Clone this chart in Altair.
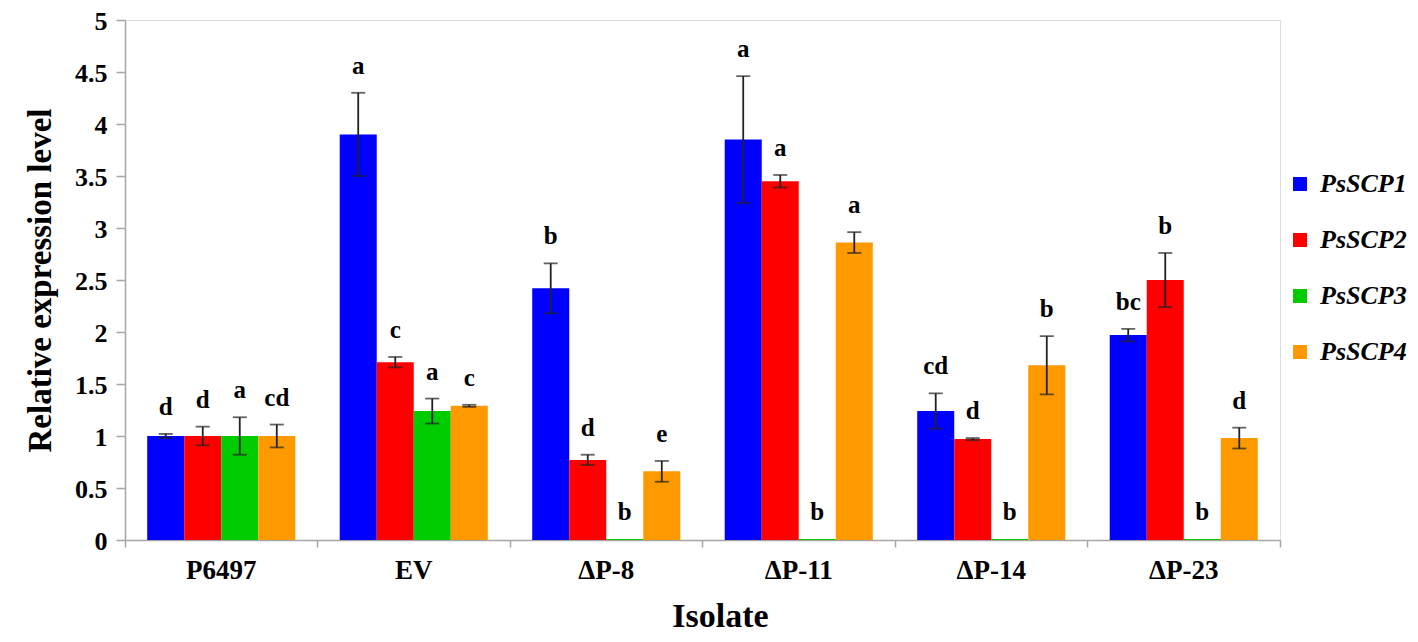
import altair as alt
import pandas as pd

isolates = ["P6497", "EV", "ΔP-8", "ΔP-11", "ΔP-14", "ΔP-23"]
genes = ["PsSCP1", "PsSCP2", "PsSCP3", "PsSCP4"]
colors = ["#0000FF", "#FF0000", "#00CC00", "#FF9900"]

scp1 = [1.00, 3.90, 2.42, 3.85, 1.24, 1.97]
scp1_err = [0.02, 0.40, 0.24, 0.61, 0.17, 0.06]
scp1_let = ["d", "a", "b", "a", "cd", "bc"]

scp2 = [1.00, 1.71, 0.77, 3.45, 0.97, 2.50]
scp2_err = [0.09, 0.05, 0.05, 0.06, 0.01, 0.26]
scp2_let = ["d", "c", "d", "a", "d", "b"]

scp3 = [1.00, 1.24, 0.01, 0.01, 0.01, 0.01]
scp3_err = [0.18, 0.12, 0.0, 0.0, 0.0, 0.0]
scp3_let = ["a", "a", "b", "b", "b", "b"]

scp4 = [1.00, 1.29, 0.66, 2.86, 1.68, 0.98]
scp4_err = [0.11, 0.01, 0.10, 0.10, 0.28, 0.10]
scp4_let = ["cd", "c", "e", "a", "b", "d"]

series = [(scp1, scp1_err, scp1_let), (scp2, scp2_err, scp2_let),
          (scp3, scp3_err, scp3_let), (scp4, scp4_err, scp4_let)]

rows = []
for g, (vals, errs, lets) in zip(genes, series):
    for iso, v, e, l in zip(isolates, vals, errs, lets):
        rows.append({"isolate": iso, "gene": g, "value": v, "err": e,
                     "lo": v - e, "hi": v + e, "letter": l})
df = pd.DataFrame(rows)

FONT = "Liberation Serif"

x_enc = alt.X("isolate:N", sort=isolates, title="Isolate",
              scale=alt.Scale(paddingInner=0, paddingOuter=0),
              axis=alt.Axis(labelAngle=0, bandPosition=1, tickExtra=True,
                            labelFont=FONT, labelFontSize=27, labelFontWeight="bold",
                            labelColor="black", labelPadding=10,
                            titleFont=FONT, titleFontSize=34, titleFontWeight="bold",
                            titleColor="black", titlePadding=16, titleX=595,
                            domainColor="#A6A6A6", tickColor="#A6A6A6",
                            domainWidth=1.5, tickWidth=1.5, tickSize=7))
xoff = alt.XOffset("gene:N", sort=genes,
                   scale=alt.Scale(paddingInner=0, paddingOuter=0.6))
color_scale = alt.Scale(domain=genes, range=colors)

y_axis = alt.Axis(values=[i * 0.5 for i in range(11)], labelExpr="datum.value",
                  grid=False, labelFont=FONT, labelFontSize=26, labelFontWeight="bold",
                  labelColor="black", labelPadding=9, labelOffset=1,
                  titleFont=FONT, titleFontSize=33, titleFontWeight="bold",
                  titleColor="black", titleX=-68,
                  domainColor="#A6A6A6", tickColor="#A6A6A6",
                  domainWidth=1.5, tickWidth=1.5, tickSize=9)

base = alt.Chart(df)

bars = base.mark_bar().encode(
    x=x_enc,
    xOffset=xoff,
    y=alt.Y("value:Q", title="Relative expression level",
            scale=alt.Scale(domain=[0, 5], nice=False), axis=y_axis),
    color=alt.Color("gene:N", scale=color_scale, sort=genes,
                    legend=alt.Legend(title=None, orient="none", legendX=1162, legendY=151,
                                      padding=0, symbolType="square", symbolSize=196,
                                      symbolStrokeWidth=0, labelFont=FONT,
                                      labelFontSize=26, labelFontStyle="italic",
                                      labelFontWeight="bold", labelColor="black",
                                      rowPadding=30, labelOffset=7)),
)

err_df = base.transform_filter("datum.err > 0")

rule = err_df.mark_rule(color="#222222", strokeWidth=1.8).encode(
    x=alt.X("isolate:N", sort=isolates), xOffset=xoff,
    y="lo:Q", y2="hi:Q")
cap_hi = err_df.mark_tick(color="#222222", thickness=1.8, size=14).encode(
    x=alt.X("isolate:N", sort=isolates), xOffset=xoff, y="hi:Q")
cap_lo = err_df.mark_tick(color="#222222", thickness=1.8, size=14).encode(
    x=alt.X("isolate:N", sort=isolates), xOffset=xoff, y="lo:Q")

letters = base.mark_text(font=FONT, fontSize=25, fontWeight="bold", color="black",
                         baseline="alphabetic", dy=-19).encode(
    x=alt.X("isolate:N", sort=isolates), xOffset=xoff, y="hi:Q", text="letter:N")

chart = alt.layer(bars, rule, cap_hi, cap_lo, letters).properties(
    width=1155, height=520,
    autosize=alt.AutoSizeParams(type="none"),
    padding={"left": 117, "top": 12, "right": 130, "bottom": 94},
).configure_view(stroke=None).configure(background="white")

chart.save("out.html", embed_options={"renderer": "svg", "actions": False})
